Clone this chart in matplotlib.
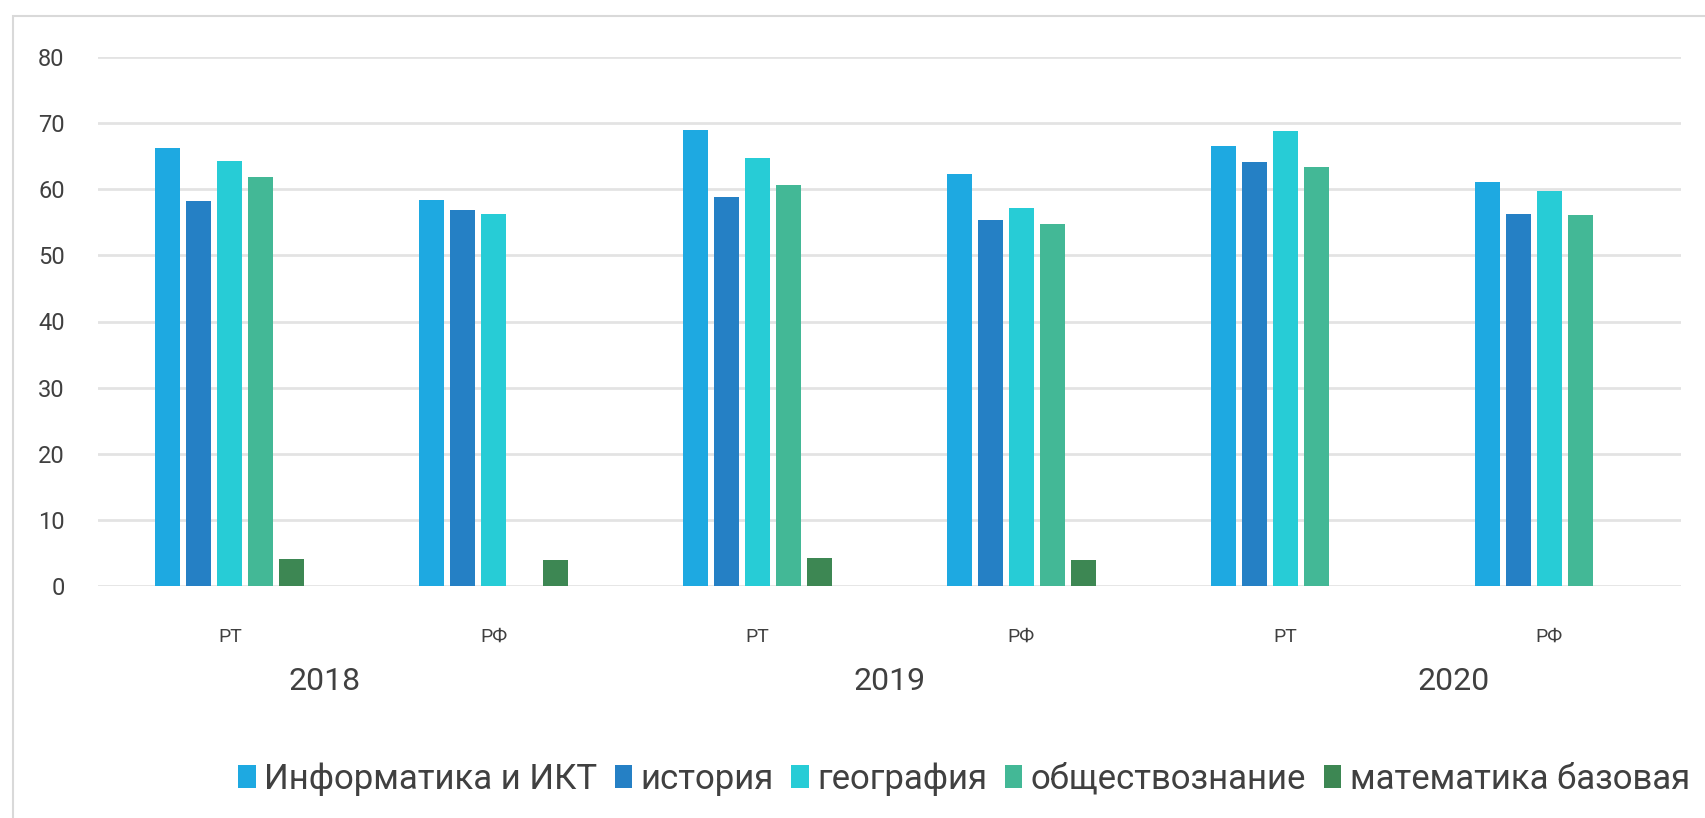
import numpy as np
import matplotlib
matplotlib.use('Agg')
import matplotlib.pyplot as plt
from matplotlib.patches import Rectangle

plt.rcParams['font.family'] = ['Roboto', 'DejaVu Sans']

regions = ['РТ', 'РФ', 'РТ', 'РФ', 'РТ', 'РФ']
years = ['2018', '2019', '2020']
year_pos = [0.36, 2.5, 4.64]

subjects = ['Информатика и ИКТ', 'история', 'география', 'обществознание', 'математика базовая']
informatics = [66.2, 58.4, 68.9, 62.3, 66.6, 61.1]
history = [58.2, 56.9, 58.9, 55.3, 64.1, 56.2]
geography = [64.2, 56.3, 64.7, 57.1, 68.8, 59.8]
social = [61.8, np.nan, 60.6, 54.8, 63.4, 56.1]
math_base = [4.1, 4.0, 4.3, 4.0, np.nan, np.nan]

series = [informatics, history, geography, social, math_base]
colors = ['#1EA9E1', '#2580C5', '#27CCD6', '#43B896', '#3D8753']

W, H = 1706, 818
fig = plt.figure(figsize=(W / 100, H / 100), dpi=100)
ax = fig.add_axes([98 / W, 1 - 586 / H, (1681 - 98) / W, (586 - 57) / H])

# outer chart border (cut off on the right and bottom)
fig.patches.append(Rectangle((13 / W, -0.1), 1.2, 1.1 - 16 / H, transform=fig.transFigure,
                             fill=False, edgecolor='#D9D9D9', linewidth=1.5))

x = np.arange(len(regions))
slot = 0.1175
bw = 0.095
for i, (vals, c) in enumerate(zip(series, colors)):
    ax.bar(x + (i - 2) * slot, vals, width=bw, color=c, label=subjects[i], zorder=3)

ax.set_xlim(-0.5, len(regions) - 0.5)
ax.set_ylim(0, 80)
ax.set_yticks(np.arange(0, 81, 10))
ax.yaxis.grid(True, color='#E3E3E3', linewidth=2)
ax.set_axisbelow(True)
for s in ax.spines.values():
    s.set_visible(False)
ax.tick_params(axis='both', length=0, colors='#404040')
ax.tick_params(axis='y', labelsize=17, pad=24)
ax.set_xticks(x)
ax.set_xticklabels(regions, fontsize=14)
ax.tick_params(axis='x', pad=30)

for yr, xp in zip(years, year_pos):
    ax.annotate(yr, xy=(xp, 0), xycoords='data', xytext=(0, -96), textcoords='offset pixels',
                ha='center', va='center', fontsize=23, color='#404040')

fig.legend(loc='center', bbox_to_anchor=(964 / W, 1 - 779 / H), ncol=5, frameon=False,
           fontsize=25, handlelength=0.5, handleheight=0.6, handletextpad=0.25,
           columnspacing=0.5, labelcolor='#404040')

fig.savefig('out.png', dpi=100, facecolor='white')
